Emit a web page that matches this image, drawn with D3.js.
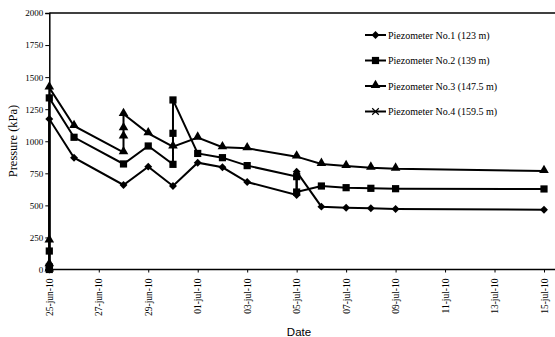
<!DOCTYPE html>
<html>
<head>
<meta charset="utf-8">
<script src="https://cdn.jsdelivr.net/npm/d3@7"></script>
<style>
  html, body { margin: 0; padding: 0; background: #fff; }
  svg { display: block; }
</style>
</head>
<body>
<svg id="chart" width="555" height="337"></svg>
<script>
// Piezometer pressure readings, June–July 2010
const p1Dates  = ["2010-06-25","2010-06-25","2010-06-25","2010-06-26","2010-06-28","2010-06-29","2010-06-30","2010-07-01","2010-07-02","2010-07-03","2010-07-05","2010-07-05","2010-07-06","2010-07-07","2010-07-08","2010-07-09","2010-07-15"];
const p1Values = [0, 12, 1173, 872, 659, 802, 651, 833, 797, 682, 581, 763, 490, 482, 477, 472, 466];

const p2Dates  = ["2010-06-25","2010-06-25","2010-06-25","2010-06-25","2010-06-26","2010-06-28","2010-06-29","2010-06-30","2010-06-30","2010-06-30","2010-07-01","2010-07-02","2010-07-03","2010-07-05","2010-07-05","2010-07-06","2010-07-07","2010-07-08","2010-07-09","2010-07-15"];
const p2Values = [0, 20, 144, 1338, 1031, 823, 963, 820, 1062, 1322, 905, 872, 810, 724, 604, 651, 638, 633, 630, 628];

const p3Dates  = ["2010-06-25","2010-06-25","2010-06-25","2010-06-25","2010-06-26","2010-06-28","2010-06-28","2010-06-28","2010-06-28","2010-06-29","2010-06-30","2010-07-01","2010-07-02","2010-07-03","2010-07-05","2010-07-06","2010-07-07","2010-07-08","2010-07-09","2010-07-15"];
const p3Values = [0, 40, 225, 1418, 1119, 914, 1036, 1101, 1212, 1062, 958, 1028, 953, 945, 880, 823, 807, 794, 786, 768];

const p4Dates  = [];
const p4Values = [];

const seriesNames = ["Piezometer No.1 (123 m)", "Piezometer No.2 (139 m)", "Piezometer No.3 (147.5 m)", "Piezometer No.4 (159.5 m)"];
const tickDates = ["2010-06-25","2010-06-27","2010-06-29","2010-07-01","2010-07-03","2010-07-05","2010-07-07","2010-07-09","2010-07-11","2010-07-13","2010-07-15"];
const yTicks = [0, 250, 500, 750, 1000, 1250, 1500, 1750, 2000];

const parse = d3.timeParse("%Y-%m-%d");
const svg = d3.select("#chart");

const x = d3.scaleTime()
  .domain([parse("2010-06-25"), parse("2010-07-15")])
  .range([49.3, 544]);
const y = d3.scaleLinear().domain([0, 2000]).range([269.5, 13]);

const serif = "'Liberation Serif', 'Times New Roman', serif";
const sans = "'Liberation Sans', Arial, sans-serif";

// frame: top edge
svg.append("line")
  .attr("x1", 49.3).attr("x2", 555).attr("y1", y(2000)).attr("y2", y(2000))
  .attr("stroke", "#000").attr("stroke-width", 1.3);

// y axis
const yAxis = svg.append("g")
  .attr("transform", "translate(49.3,0)")
  .call(d3.axisLeft(y).tickValues(yTicks).tickSize(4).tickPadding(2).tickFormat(d3.format("d")));
yAxis.select(".domain").attr("stroke-width", 1.5);
yAxis.selectAll(".tick line").attr("stroke-width", 1);
yAxis.selectAll("text").attr("font-family", serif).attr("font-size", 9).attr("fill", "#000");

// x axis
const xAxis = svg.append("g")
  .attr("transform", `translate(0,${y(0)})`)
  .call(d3.axisBottom(x).tickValues(tickDates.map(parse)).tickSize(3)
    .tickFormat(d => d3.timeFormat("%d-%b-%y")(d).toLowerCase()));
xAxis.select(".domain").attr("d", `M49.3,0H555`).attr("stroke-width", 1.3);
xAxis.selectAll(".tick line").attr("stroke-width", 1);
xAxis.selectAll("text")
  .attr("font-family", serif).attr("font-size", 9.5).attr("fill", "#000")
  .attr("transform", "rotate(-90)")
  .attr("text-anchor", "end")
  .attr("x", -9).attr("y", 0).attr("dy", "0.33em");

// axis titles
svg.append("text")
  .attr("transform", "translate(17,141) rotate(-90)")
  .attr("text-anchor", "middle")
  .attr("font-family", serif).attr("font-size", 12.5)
  .text("Pressure (kPa)");
svg.append("text")
  .attr("x", 299).attr("y", 336)
  .attr("text-anchor", "middle")
  .attr("font-family", sans).attr("font-size", 11.5)
  .text("Date");

// marker shapes
const markerSize = 42;
const symbols = [d3.symbolDiamond2, d3.symbolSquare, d3.symbolTriangle, d3.symbolX];
function drawMarker(g, i, cx, cy) {
  if (i === 1) {
    g.append("rect").attr("x", cx - 3.6).attr("y", cy - 3.6).attr("width", 7.2).attr("height", 7.2).attr("fill", "#000");
  } else if (i === 0) {
    g.append("path").attr("transform", `translate(${cx},${cy})`)
      .attr("d", d3.symbol(d3.symbolDiamond2, 40)()).attr("fill", "#000");
  } else if (i === 2) {
    g.append("path").attr("transform", `translate(${cx},${cy - 0.8})`)
      .attr("d", d3.symbol(d3.symbolTriangle, 40)()).attr("fill", "#000");
  } else {
    g.append("path").attr("transform", `translate(${cx},${cy})`)
      .attr("d", d3.symbol(d3.symbolX, 30)()).attr("fill", "none")
      .attr("stroke", "#000").attr("stroke-width", 1.2);
  }
}

const series = [
  {dates: p1Dates, values: p1Values},
  {dates: p2Dates, values: p2Values},
  {dates: p3Dates, values: p3Values},
  {dates: p4Dates, values: p4Values}
];

const line = d3.line().x(d => x(d[0])).y(d => y(d[1]));

series.forEach((s, i) => {
  const pts = s.dates.map((d, k) => [parse(d), s.values[k]]);
  if (!pts.length) return;
  const g = svg.append("g");
  g.append("path").datum(pts)
    .attr("d", line).attr("fill", "none")
    .attr("stroke", "#000").attr("stroke-width", 2).attr("stroke-linejoin", "miter");
  pts.forEach(p => drawMarker(g, i, x(p[0]), y(p[1])));
});

// legend
const legend = svg.append("g");
const legendY = [35, 60.5, 86, 111.5];
seriesNames.forEach((name, i) => {
  const ly = legendY[i];
  legend.append("line").attr("x1", 365).attr("x2", 386).attr("y1", ly).attr("y2", ly)
    .attr("stroke", "#000").attr("stroke-width", 2);
  drawMarker(legend, i, 375.5, ly);
  legend.append("text").attr("x", 388).attr("y", ly).attr("dy", "0.35em")
    .attr("font-family", serif).attr("font-size", 10)
    .text(name);
});
</script>
</body>
</html>
